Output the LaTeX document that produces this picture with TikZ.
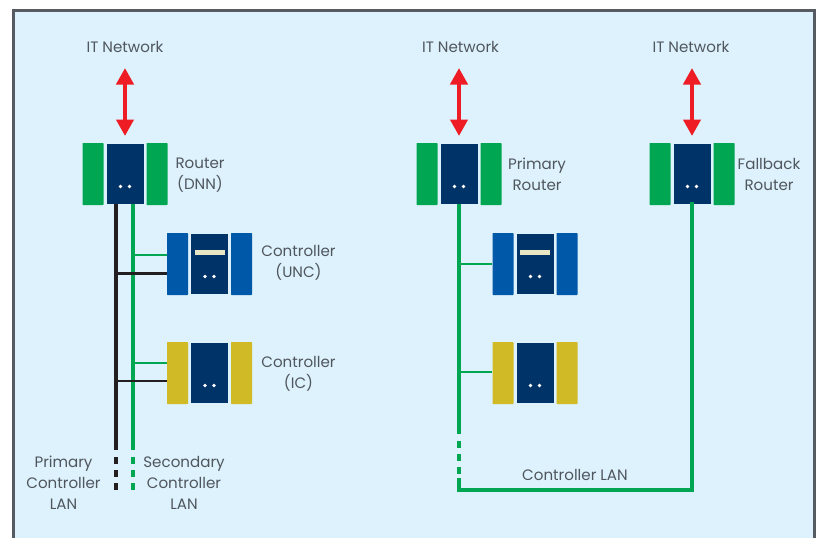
\documentclass[tikz,border=0pt]{standalone}
\usepackage{fontspec}
\setmainfont{Poppins}
\usetikzlibrary{arrows.meta}
\definecolor{panelblue}{HTML}{DDF2FC}
\definecolor{framegrey}{HTML}{555B60}
\definecolor{textgrey}{HTML}{50565E}
\definecolor{lanblack}{HTML}{231F20}
\definecolor{langreen}{HTML}{00A651}
\definecolor{boxnavy}{HTML}{003468}
\definecolor{ctlblue}{HTML}{0058A8}
\definecolor{ctlyellow}{HTML}{D0BA26}
\definecolor{slotcream}{HTML}{E8E6C4}
\definecolor{netred}{HTML}{EE1C25}
\tikzset{
	label/.style={font=\fontsize{15.1}{21}\selectfont, text=textgrey, align=center, inner sep=0pt},
	core/.style={fill=boxnavy, minimum width=37pt, minimum height=60pt, inner sep=0pt},
	side/.style={minimum width=21pt, minimum height=62pt, inner sep=0pt, rounded corners=0.6pt},
	netarrow/.style={netred, line width=4.8pt, {Triangle[width=17pt,length=16.5pt]}-{Triangle[width=17pt,length=16.5pt]}},
	blackwire/.style={lanblack, line width=3.6pt},
	greenwire/.style={langreen, line width=3.6pt},
	blacktap/.style={lanblack, line width=2.6pt},
	greentap/.style={langreen, line width=2.6pt},
	gap/.style={dash pattern=on 6.5pt off 6.5pt}
}
% name, x, y, colour of the side panels
\newcommand{\device}[4]{
	\node[core] (#1) at (#2,#3) {};
	\node[side, fill=#4] (#1l) at (#2-32,#3) {};
	\node[side, fill=#4] (#1r) at (#2+32,#3) {};
	\fill[white] (#2-4.5,#3+12.5) circle (1.9pt) (#2+4.5,#3+12.5) circle (1.9pt);
}
\newcommand{\slot}[2]{\fill[slotcream] (#1-15,#2-14) rectangle (#1+15,#2-9);}
\begin{document}
\begin{tikzpicture}[x=1pt,y=-1pt]
	\useasboundingbox (0,0) rectangle (817,538);
	\path[fill=panelblue] (13,538) -- (13,10) -- (814,10) -- (814,538);
	\draw[framegrey, line width=3pt] (13,538) -- (13,10) -- (814,10) -- (814,538);

	\coordinate (gU) at (133,255);
	\coordinate (bU) at (116,273.5);
	\coordinate (gI) at (133,363);
	\coordinate (bI) at (116,381);
	\coordinate (bEnd) at (116,450);
	\coordinate (gEnd) at (133,450);
	\coordinate (bDash) at (116,457);
	\coordinate (gDash) at (133,457);
	\coordinate (bStop) at (116,490);
	\coordinate (gStop) at (133,490);
	\coordinate (pU) at (459,264);
	\coordinate (pI) at (459,372);
	\coordinate (pEnd) at (459,434);
	\coordinate (pDash) at (459,441);
	\coordinate (pLow) at (459,480);
	\coordinate (pCorner) at (459,490);
	\coordinate (fCorner) at (692,490);
	\coordinate (topA) at (125,68);
	\coordinate (botA) at (125,136);
	\coordinate (topB) at (459,68);
	\coordinate (botB) at (459,136);
	\coordinate (topC) at (692,68);
	\coordinate (botC) at (692,136);

	\device{dnn}{125}{174}{langreen}
	\device{unc}{209.5}{264}{ctlblue}
	\device{ic}{209.5}{373}{ctlyellow}
	\device{prim}{459}{174}{langreen}
	\device{unctwo}{535}{264}{ctlblue}
	\device{ictwo}{535}{373}{ctlyellow}
	\device{fall}{692}{174}{langreen}
	\slot{209.5}{264}
	\slot{535}{264}

	\draw[netarrow] (topA) -- (botA);
	\draw[netarrow] (topB) -- (botB);
	\draw[netarrow] (topC) -- (botC);

	\draw[blackwire] (dnn.south -| bEnd) -- (bEnd);
	\draw[greenwire] (dnn.south -| gEnd) -- (gEnd);
	\draw[blackwire, gap] (bDash) -- (bStop);
	\draw[greenwire, gap] (gDash) -- (gStop);
	\draw[greentap] (gU) -- (gU -| uncl.west);
	\draw[blacktap] (bU) -- (bU -| uncl.west);
	\draw[greentap] (gI) -- (gI -| icl.west);
	\draw[blacktap] (bI) -- (bI -| icl.west);

	\draw[greenwire] (prim.south) -- (pEnd);
	\draw[greenwire, gap] (pDash) -- (pLow);
	\draw[greenwire, line cap=rect] (pLow) -- (pCorner) -- (fCorner) -- (fall.south);
	\draw[greentap] (pU) -- (pU -| unctwol.west);
	\draw[greentap] (pI) -- (pI -| ictwol.west);

	\node[label] (itA) at (125,47) {IT Network};
	\node[label] (itB) at (460.5,47) {IT Network};
	\node[label] (itC) at (691,47) {IT Network};
	\node[label] (dnntext) at (200,175) {Router\\(DNN)};
	\node[label] (unctext) at (298.5,263) {Controller\\(UNC)};
	\node[label] (ictext) at (298.5,374) {Controller\\(IC)};
	\node[label] (primtext) at (537,174) {Primary\\Router};
	\node[label] (falltext) at (769,174) {Fallback\\Router};
	\node[label] (lanA) at (63.5,483) {Primary\\Controller\\LAN};
	\node[label] (lanB) at (184,483) {Secondary\\Controller\\LAN};
	\node[label] (lanC) at (575,475) {Controller LAN};
\end{tikzpicture}
\end{document}
